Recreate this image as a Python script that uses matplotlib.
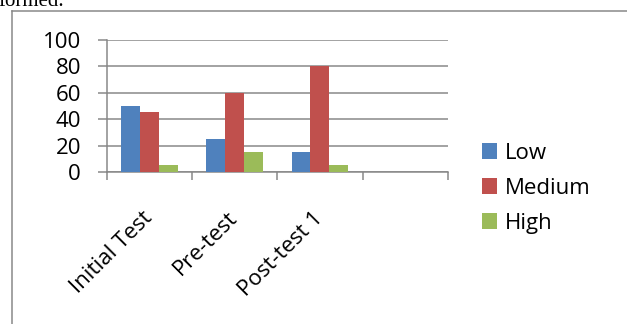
import numpy as np
import matplotlib.pyplot as plt
from matplotlib.lines import Line2D
from matplotlib.patches import Patch

# test stages (the fourth slot is left empty on the axis)
categories = ["Initial Test", "Pre-test", "Post-test 1", ""]
series_names = ["Low", "Medium", "High"]
low = [50, 25, 15, np.nan]
medium = [45, 60, 80, np.nan]
high = [5, 15, 5, np.nan]
y_ticks = [0, 20, 40, 60, 80, 100]

colors = ["#4F81BD", "#C0504D", "#9BBB59"]
grey = "#868686"
font = "Open Sans"
px = 72 / 100  # one pixel in points at dpi 100

fig = plt.figure(figsize=(6.27, 3.24), dpi=100)
ax = fig.add_axes([0.1707, 0.469, 0.5433, 0.409])

x = np.arange(len(categories))
width = 1 / 4.5
for i, (vals, name) in enumerate(zip([low, medium, high], series_names)):
    ax.bar(x + (i - 1) * width, vals, width, color=colors[i], label=name, zorder=3)

ax.set_xlim(-0.5, len(categories) - 0.5)
ax.set_ylim(0, 100)
ax.set_yticks(y_ticks)
ax.set_yticklabels([str(v) for v in y_ticks], fontfamily=font, fontsize=16)
ax.yaxis.grid(True, color=grey, linewidth=1.5 * px, zorder=0)

# labels at category centres, tick marks on the boundaries
ax.set_xticks(x)
ax.set_xticklabels(categories, rotation=45, ha="right", va="center",
                   rotation_mode="anchor", fontfamily=font, fontsize=16)
ax.set_xticks(np.arange(len(categories) + 1) - 0.5, minor=True)
ax.tick_params(axis="x", which="major", length=0, pad=43 * px)
ax.tick_params(axis="x", which="minor", length=8 * px, width=1.5 * px, color=grey)
ax.tick_params(axis="y", length=9 * px, width=1.5 * px, color=grey, pad=17 * px)

for side in ["top", "right"]:
    ax.spines[side].set_visible(False)
for side in ["left", "bottom"]:
    ax.spines[side].set_color(grey)
    ax.spines[side].set_linewidth(1.5 * px)

handles = [Patch(facecolor=c, label=n) for c, n in zip(colors, series_names)]
fig.legend(handles=handles, loc="center left", bbox_to_anchor=(0.769, 0.419),
           frameon=False, prop={"family": font, "size": 16},
           handlelength=0.68, handleheight=0.68, handletextpad=0.35,
           labelspacing=0.63, borderaxespad=0, borderpad=0)

# chart frame inside the document page
fig.add_artist(Line2D([12 / 627, 12 / 627], [0, 1 - 10.7 / 324],
                      color=grey, linewidth=1.5 * px))
fig.add_artist(Line2D([12 / 627, 1], [1 - 10.7 / 324, 1 - 10.7 / 324],
                      color=grey, linewidth=1.5 * px))

# tail of the preceding paragraph
fig.text(-0.003, 1 - 6 / 324, "formed.", fontfamily="Liberation Serif",
         fontsize=15, va="baseline", ha="left")

fig.savefig("out.png", dpi=100)
